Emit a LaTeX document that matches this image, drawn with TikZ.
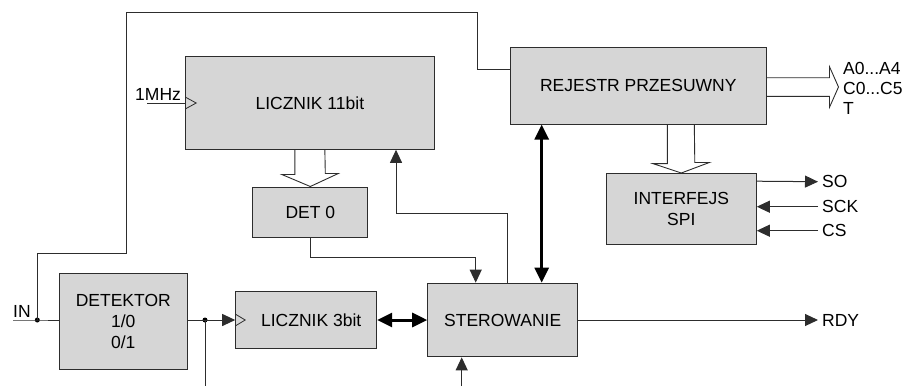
\documentclass[tikz,border=0pt]{standalone}
\usepackage{fontspec}
\setmainfont{Liberation Sans}
\usetikzlibrary{arrows.meta,backgrounds}
\definecolor{boxgray}{RGB}{214,214,214}
\definecolor{linegray}{RGB}{45,45,45}
\begin{document}
\begin{tikzpicture}[x=1pt,y=-1pt,
  blk/.style={draw=linegray, line width=1pt, fill=boxgray, inner sep=0pt,
    font=\fontsize{17.5}{21}\selectfont, align=center},
  lbl/.style={inner xsep=4pt, inner ysep=0pt, font=\fontsize{17.5}{21}\selectfont},
  wire/.style={draw=linegray, line width=1pt},
  tip/.style={-{Triangle[length=13pt,width=12pt]}},
  bus/.style={line width=3pt, {Triangle[length=15pt,width=14pt]}-{Triangle[length=15pt,width=14pt]}},
  fat/.style={draw=linegray, line width=0.9pt, fill=white},
  junction/.style={circle, fill=black, inner sep=0pt, minimum size=5pt},
  clock/.style={draw=linegray, line width=0.8pt}
]
\useasboundingbox (0,0) rectangle (905,386);

% blocks
\node[blk, minimum width=248.3pt, minimum height=92.6pt] (L11) at (309.85,103) {LICZNIK 11bit};
\node[blk, minimum width=115.3pt, minimum height=50pt] (DET0) at (310.3,212) {DET 0};
\node[blk, minimum width=256pt, minimum height=76.7pt] (REJ) at (638.3,85.7) {REJESTR PRZESUWNY};
\node[blk, minimum width=150pt, minimum height=70.5pt] (SPI) at (681.3,208.75) {INTERFEJS\\SPI};
\node[blk, minimum width=128pt, minimum height=96pt] (DETK) at (123.3,321.5) {DETEKTOR\\1/0\\0/1};
\node[blk, minimum width=141pt, minimum height=56.3pt] (L3) at (306.2,320) {\hspace*{10pt}LICZNIK 3bit};
\node[blk, minimum width=150pt, minimum height=73.7pt] (STER) at (502.7,320) {STEROWANIE};

% labels
\node[lbl, inner xsep=0pt, anchor=base west] (IN) at (13,317) {IN};
\node[lbl, inner xsep=0pt, anchor=base west] (MHZ) at (135,100) {1MHz};
\node[lbl, inner xsep=0pt, anchor=west] (A04) at (843,68) {A0...A4};
\node[lbl, inner xsep=0pt, anchor=west] (C05) at (843,88) {C0...C5};
\node[lbl, inner xsep=0pt, anchor=west] (T) at (843,108) {T};
\node[lbl, anchor=west] (SO) at (818,181.7) {SO};
\node[lbl, anchor=west] (SCK) at (818,206.7) {SCK};
\node[lbl, anchor=west] (CS) at (818,230.7) {CS};
\node[lbl, anchor=west] (RDY) at (818,320) {RDY};

% junctions and free ends
\node[junction] (dotA) at (37.3,320) {};
\node[junction] (dotB) at (205,320) {};
\coordinate (inL) at (13,320);
\coordinate (clk) at (147,103);
\coordinate (botB) at (205,386);
\coordinate (botS) at (461.7,386);

% hollow bus arrows (behind the blocks)
\begin{scope}[on background layer]
\draw[fat] ([xshift=-15pt]L11.south) -- ++(0,24.7) -- ++(-13,0) -- (DET0.north)
  -- ++(28,-13) -- ++(-13,0) -- ([xshift=15pt]L11.south);
\draw[fat] ([xshift=29pt]REJ.south) -- ++(0,39) -- ++(-14.5,0) -- (SPI.north)
  -- ++(28,-10.5) -- ++(-14.5,0) -- ([xshift=56pt]REJ.south);
\draw[fat] ([yshift=8pt]REJ.east) -- ++(62.7,0) -- ++(0,-11) -- ++(9,20.3)
  -- ++(-9,20.3) -- ++(0,-11) -- ([yshift=-10.6pt]REJ.east);
\end{scope}

% wires
\draw[wire] (inL) -- (dotA.center) -- (dotA -| DETK.west);
\draw[wire] (dotA.center) |- (126.7,253.3) |- (477,12.5) |- ([yshift=-22.7pt]REJ.north west);
\draw[wire] (clk) -- (clk -| L11.west);
\draw[wire] (dotB -| DETK.east) -- (dotB.center);
\draw[wire, tip] (dotB.center) -- (L3.west);
\draw[wire] (dotB.center) -- (botB);
\draw[bus] (L3.east) -- (STER.west);
\draw[wire, tip] (STER.east) -- (RDY.west);
\draw[wire, tip] ([xshift=4.3pt]STER.north) -- ++(0,-69.3) -| ([xshift=86.15pt]L11.south);
\draw[wire, tip] (DET0.south) -- ++(0,19.7) -| ([xshift=-27pt]STER.north);
\draw[bus] ([xshift=39pt]STER.north) -- ([xshift=39pt]STER.north |- REJ.south);
\draw[wire, tip] (botS) -- (botS |- STER.south);
\draw[wire, tip] ([yshift=-8.2pt]SPI.north east) -- (SO.west);
\draw[wire, tip] (SCK.west) -- (SCK.west -| SPI.east);
\draw[wire, tip] (CS.west) -- (CS.west -| SPI.east);

% clock inputs
\draw[clock] ([yshift=6pt]L11.west) -- ++(11,6) -- ++(-11,6);
\draw[clock] ([yshift=6pt]L3.west) -- ++(10,6) -- ++(-10,6);
\end{tikzpicture}
\end{document}
